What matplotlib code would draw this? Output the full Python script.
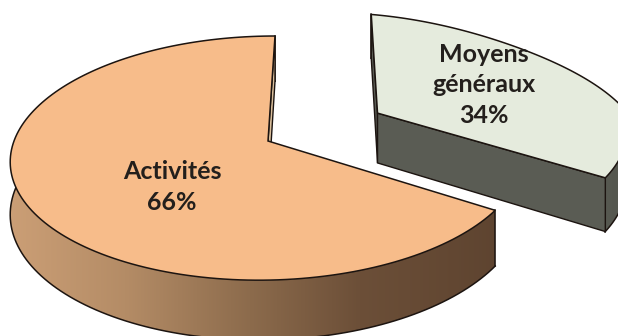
import numpy as np
import matplotlib
matplotlib.use("Agg")
import matplotlib.pyplot as plt
from matplotlib.patches import Polygon
from matplotlib.colors import LinearSegmentedColormap

labels = ["Moyens\ngénéraux\n34%", "Activités\n66%"]
values = [34, 66]
explode = [0.5, 0.0]
top_colors = ["#E5EBDD", "#F7BC8A"]

# 3D pie projection (perspective onto the picture, in pixels)
CX, CY, RX, RY, KP, XV, DEPTH = 268, 141, 254, 119.7, 0.14, 325, 51.5
EDGE = "#1c1410"
RIM_DENT = [0.10, 0.0]
DENT_SPAN = 85


def project(u, v, low=False):
    den = 1 + KP * v
    x = XV + (CX - XV + RX * u) / den
    y = CY - RY * v / den + (DEPTH / den if low else 0)
    return np.column_stack([x, y])


def arc(a0, a1, ex, ev, dent, n=160):
    deg = np.linspace(a0, a1, n)
    t = np.radians(deg)
    r = 1 - dent * np.sin(np.pi * np.clip(deg / DENT_SPAN, 0, 1))
    return r * np.sin(t) + ex, r * np.cos(t) + ev


fig = plt.figure(figsize=(6.18, 3.36), dpi=100, facecolor="white")
ax = fig.add_axes([0, 0, 1, 1])
ax.set_xlim(0, 618)
ax.set_ylim(336, 0)
ax.axis("off")

cum = np.concatenate([[0], np.cumsum(values)]) * 360 / sum(values)
wall_map = [
    LinearSegmentedColormap.from_list("g", ["#5C5E56", "#55574F"]),
    LinearSegmentedColormap.from_list(
        "o", [(0, "#CDA077"), (0.25, "#B48C66"), (0.5, "#8C6B4C"),
              (0.72, "#6C4F38"), (1, "#5E4430")]),
]
side_colors = ["#5A5C54", "#D9BE9B"]
ranges = [(330, 660), (0, 500)]

for i in (1, 0):
    a0, a1 = cum[i], cum[i + 1]
    mid = np.radians((a0 + a1) / 2)
    ex, ev = explode[i] * np.sin(mid), explode[i] * np.cos(mid)
    u, v = arc(a0, a1, ex, ev, RIM_DENT[i])
    up, lo = project(u, v), project(u, v, True)

    # outer wall with horizontal gradient
    wall = Polygon(np.vstack([up, lo[::-1]]), closed=True, fc="none", ec="none")
    ax.add_patch(wall)
    grad = np.linspace(0, 1, 256).reshape(1, -1)
    im = ax.imshow(grad, cmap=wall_map[i], aspect="auto",
                   extent=(ranges[i][0], ranges[i][1], 336, 0), zorder=1 + 3 * (1 - i))
    im.set_clip_path(wall)
    ax.plot(lo[:, 0], lo[:, 1], color=EDGE, lw=1.1, zorder=2 + 3 * (1 - i))

    # cut-edge walls and vertical edges
    apex_t, apex_b = project(ex, ev), project(ex, ev, True)
    for end_t, end_b in ((up[0], lo[0]), (up[-1], lo[-1])):
        ax.plot([end_t[0], end_b[0]], [end_t[1], end_b[1]], color=EDGE, lw=1.1,
                zorder=2 + 3 * (1 - i))
        if i == 1 and end_t[1] > 100:
            continue
        quad = np.vstack([apex_t, end_t, end_b, apex_b])
        ax.add_patch(Polygon(quad, closed=True, fc=side_colors[i], ec=EDGE, lw=1.0,
                             zorder=2 + 3 * (1 - i)))
    # top face
    ax.add_patch(Polygon(np.vstack([apex_t, up]), closed=True, fc=top_colors[i],
                         ec=EDGE, lw=1.1, joinstyle="miter", zorder=3 + 3 * (1 - i)))

text_pos = [(484, 85), (172, 187)]
for lab, (x, y) in zip(labels, text_pos):
    ax.text(x, y, lab, ha="center", va="center", family="Lato", weight="bold",
            fontsize=18, color="#231f1c", linespacing=1.42, zorder=20)

ax.set_xlim(0, 618)
ax.set_ylim(336, 0)
fig.savefig("out.png", dpi=100, facecolor="white")
